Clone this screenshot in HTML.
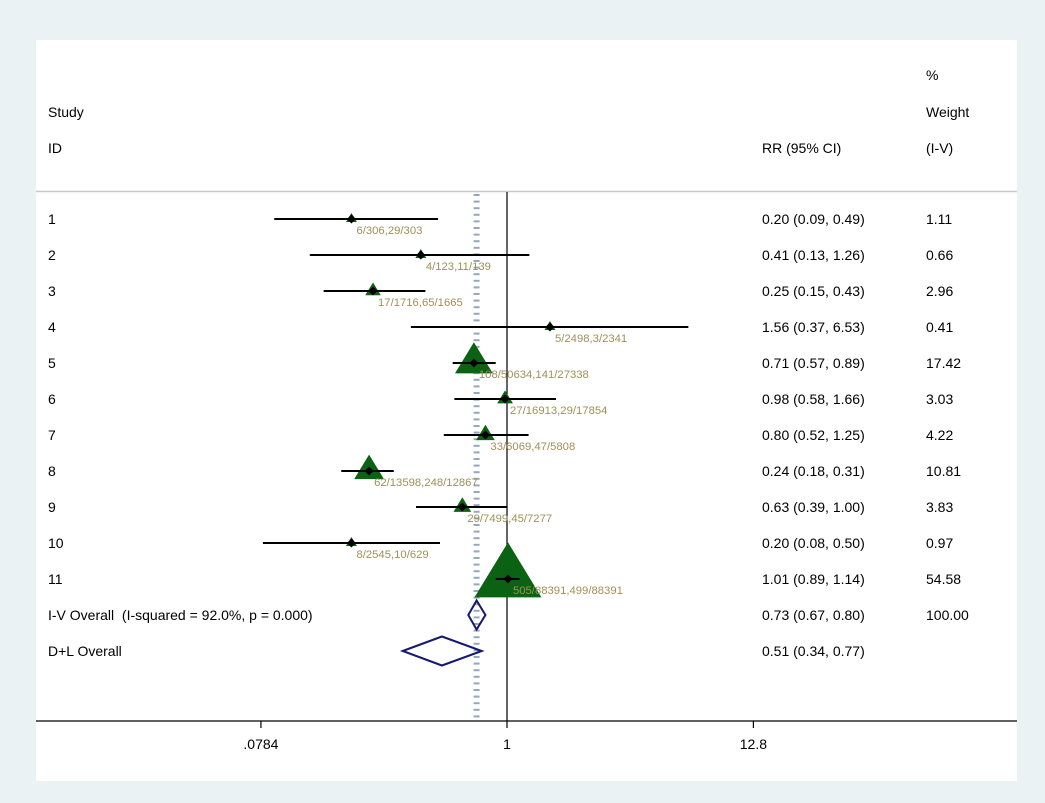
<!DOCTYPE html>
<html><head><meta charset="utf-8"><style>
body{margin:0;background:#eaf2f3;}
svg{display:block;font-family:"Liberation Sans",Arial,sans-serif;}
text{white-space:pre;}
</style></head><body>
<svg id="chart" width="1045" height="803" viewBox="0 0 1045 803">
<rect x="36" y="40" width="981" height="741" fill="#ffffff"/>
<line x1="36" y1="191.5" x2="1017" y2="191.5" stroke="#c8c8c8" stroke-width="1.5"/>
<g font-size="14" fill="#000">
<text x="926" y="80">%</text>
<text x="48" y="117">Study</text>
<text x="926" y="117">Weight</text>
<text x="48" y="153">ID</text>
<text x="762" y="153">RR (95% CI)</text>
<text x="926" y="153">(I-V)</text>
</g>
<g id="marks"></g>
<line x1="36" y1="721" x2="1017" y2="721" stroke="#000" stroke-width="1.2"/>
<g id="ticks"></g>
</svg>
<script>
const studyIds = ["1","2","3","4","5","6","7","8","9","10","11"];
const rr = [0.20,0.41,0.25,1.56,0.71,0.98,0.80,0.24,0.63,0.20,1.01];
const lo = [0.09,0.13,0.15,0.37,0.57,0.58,0.52,0.18,0.39,0.08,0.89];
const hi = [0.49,1.26,0.43,6.53,0.89,1.66,1.25,0.31,1.00,0.50,1.14];
const weights = [1.11,0.66,2.96,0.41,17.42,3.03,4.22,10.81,3.83,0.97,54.58];
const counts = ["6/306,29/303","4/123,11/139","17/1716,65/1665","5/2498,3/2341","108/50634,141/27338","27/16913,29/17854","33/6069,47/5808","62/13598,248/12867","29/7499,45/7277","8/2545,10/629","505/88391,499/88391"];
const overallLabels = ["I-V Overall  (I-squared = 92.0%, p = 0.000)","D+L Overall"];
const overallRR = [0.73,0.51];
const overallLo = [0.67,0.34];
const overallHi = [0.80,0.77];
const overallWeight = ["100.00",""];
const tickValues = [0.0784,1,12.8];
const tickLabels = [".0784","1","12.8"];

const NS="http://www.w3.org/2000/svg";
const xMin=0.0784, xMax=12.8;
function x(v){return 507+Math.log(v)*96.65;}
function rowY(i){return 219+i*36;}
function mk(tag,attrs,parent){const e=document.createElementNS(NS,tag);for(const k in attrs)e.setAttribute(k,attrs[k]);parent.appendChild(e);return e;}
const g=document.getElementById('marks');
const f=v=>v.toFixed(2);
const ov=x(overallRR[0]);
for(let y=195;y<720;y+=6.6){
  const d=mk('line',{x1:ov-3,x2:ov+3,y1:y,y2:y,stroke:'#94a8bd','stroke-width':2},g);
  
  
}
const nl=mk('line',{x1:x(1),x2:x(1),y1:192,y2:721,stroke:'#000','stroke-width':1.2},g);


const maxW=Math.max(...weights);
studyIds.forEach((id,i)=>{
  const y=rowY(i);
  const t=mk('text',{x:48,y:y+5,'font-size':14},g);t.textContent=id;
  
  
  const w=Math.max(11,67*Math.sqrt(weights[i]/maxW)), h=w*55/67, cx=x(rr[i]);
  const tri=mk('polygon',{points:`${cx},${y-2*h/3} ${cx-w/2},${y+h/3} ${cx+w/2},${y+h/3}`,fill:'#0b6212'},g);
  
  
  const l=Math.max(lo[i],xMin), arrow=lo[i]<xMin;
  const ci=mk('line',{x1:x(l)+(arrow?1:0),x2:x(Math.min(hi[i],xMax)),y1:y,y2:y,stroke:'#000','stroke-width':2},g);
  
  
  if(arrow){
    const a=mk('polyline',{points:`${x(l)+13},${y-8} ${x(l)+1},${y} ${x(l)+13},${y+8}`,fill:'none',stroke:'#000','stroke-width':2},g);
    
    
  }
  const pt=mk('polygon',{points:`${cx},${y-4.5} ${cx+4.5},${y} ${cx},${y+4.5} ${cx-4.5},${y}`,fill:'#000'},g);
  
  
  const c=mk('text',{x:cx+5,y:y+15,'font-size':11.3,fill:'#a08f5a'},g);c.textContent=counts[i];
  
  
  const r=mk('text',{x:762,y:y+5,'font-size':14},g);r.textContent=`${f(rr[i])} (${f(lo[i])}, ${f(hi[i])})`;
  
  
  const wt=mk('text',{x:926,y:y+5,'font-size':14},g);wt.textContent=f(weights[i]);
  
  
});
overallLabels.forEach((lab,j)=>{
  const y=rowY(studyIds.length+j);
  const t=mk('text',{x:48,y:y+5,'font-size':14},g);t.textContent=lab;
  
  
  const dm=mk('polygon',{points:`${x(overallLo[j])},${y} ${x(overallRR[j])},${y-14.5} ${x(overallHi[j])},${y} ${x(overallRR[j])},${y+14.5}`,fill:'none',stroke:'#141a6e','stroke-width':2},g);
  
  
  const r=mk('text',{x:762,y:y+5,'font-size':14},g);r.textContent=`${f(overallRR[j])} (${f(overallLo[j])}, ${f(overallHi[j])})`;
  
  
  if(overallWeight[j]){
    const wt=mk('text',{x:926,y:y+5,'font-size':14},g);wt.textContent=overallWeight[j];
    
    
  }
});
const tg=document.getElementById('ticks');
tickValues.forEach((v,i)=>{
  const tl=mk('line',{x1:x(v),x2:x(v),y1:721,y2:728,stroke:'#000','stroke-width':1.2},tg);
  
  
  const tt=mk('text',{x:x(v),y:749,'font-size':14,'text-anchor':'middle'},tg);tt.textContent=tickLabels[i];
  
  
});
</script>
</body></html>
